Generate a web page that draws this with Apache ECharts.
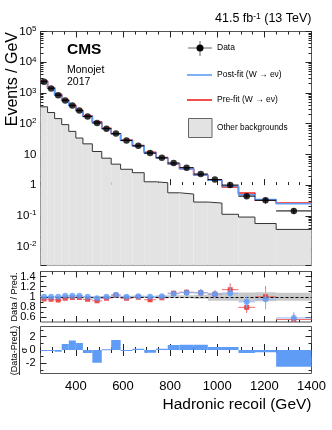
<!DOCTYPE html>
<html>
<head>
<meta charset="utf-8">
<script src="https://cdn.jsdelivr.net/npm/echarts@6.0.0/dist/echarts.min.js"></script>
<style>
html, body { margin: 0; padding: 0; background: #fff; }
#chart { width: 332px; height: 430px; }
</style>
</head>
<body>
<div id="chart"></div>
<script>
// hadronic recoil bin edges (GeV)
const edges = [250, 280, 310, 340, 370, 400, 430, 470, 510, 550, 590, 640, 690, 740, 790, 840, 900, 960, 1020, 1090, 1160, 1250, 1400];

// Events / GeV
const dataVals = [2330, 1405, 847, 567, 389, 267, 170, 105, 68.5, 48, 28.3, 19, 11, 7.7, 5.25, 3.69, 2.29, 1.51, 1.0, 0.436, 0.32, 0.144];
const postFit = [2330, 1405, 847, 556, 381, 262, 170, 108, 68.5, 46.2, 28.3, 18.8, 11.0, 7.62, 4.95, 3.42, 2.12, 1.44, 0.935, 0.484, 0.337, 0.248];
const preFit = [2440, 1479, 906, 585, 395, 271, 179, 114, 70.6, 46.6, 29.2, 19.2, 11.7, 7.86, 4.91, 3.39, 2.12, 1.44, 0.877, 0.552, 0.32, 0.262];
const otherBkg = [353, 230, 146, 93, 56, 34, 22, 12.4, 7.5, 4.8, 3.27, 2.53, 1.28, 1.19, 0.56, 0.51, 0.28, 0.26, 0.112, 0.091, 0.056, 0.036];

// Data / Pred.
const ratioPost = [1.00, 1.00, 1.00, 1.02, 1.02, 1.02, 1.00, 0.97, 1.00, 1.04, 1.00, 1.01, 1.00, 1.01, 1.06, 1.08, 1.08, 1.05, 1.07, 0.90, 0.95, 0.58];
const ratioPre = [0.955, 0.95, 0.935, 0.97, 0.985, 0.985, 0.95, 0.92, 0.97, 1.03, 0.97, 0.99, 0.94, 0.98, 1.07, 1.09, 1.08, 1.05, 1.14, 0.79, 1.00, 0.55];
const ratioErr = [0.005, 0.006, 0.007, 0.008, 0.01, 0.012, 0.013, 0.017, 0.02, 0.024, 0.03, 0.035, 0.04, 0.045, 0.05, 0.06, 0.07, 0.08, 0.12, 0.13, 0.2, 0.12];
const bandHalf = [0.01, 0.01, 0.01, 0.01, 0.012, 0.012, 0.012, 0.014, 0.015, 0.016, 0.018, 0.02, 0.022, 0.025, 0.03, 0.03, 0.04, 0.08, 0.08, 0.085, 0.09, 0.08];

// (Data-Pred.)/sigma
const pulls = [-0.1, -0.05, -0.25, 0.9, 1.4, 1.05, -0.45, -1.9, 0.1, 1.5, -0.15, 0.2, -0.4, 0.2, 0.75, 0.8, 0.8, 0.45, 0.45, -0.45, -0.35, -2.5];

// tick labels
const xLabelVals = [400, 600, 800, 1000, 1200, 1400];
const ratioLabelVals = [0.6, 0.8, 1, 1.2, 1.4];
const ratioMinorVals = [0.7, 0.9, 1.1, 1.3];
const pullLabelVals = [-2, 0, 2];
const pullMinorVals = [-3, -1, 1, 3];

const yMin = 0.0025, yMax = 1e5;
const font = '"Liberation Sans", Arial, sans-serif';
const frame = '#555';
const tickCol = '#222';
const blue = '#5f9cf6';
const red = '#ee2222';

const xMinorVals = [];
for (let v = 250; v <= 1400; v += 50) xMinorVals.push(v);
const logMinorVals = [];
for (let k = -3; k <= 4; k++) {
  for (let m = 2; m <= 9; m++) {
    const l = Math.log10(m) + k;
    if (l > Math.log10(yMin) && l < 5) logMinorVals.push(l);
  }
}

const mid = i => (edges[i] + edges[i + 1]) / 2;
const steps = vals => {
  const pts = [];
  vals.forEach((v, i) => { pts.push([edges[i], v], [edges[i + 1], v]); });
  return pts;
};
const rows = (vals, errs) => vals.map((v, i) => [edges[i], edges[i + 1], v, errs ? errs[i] : 0]);

const renderFill = (params, api) => {
  const cs = params.coordSys;
  const p = api.coord([api.value(0), api.value(2)]);
  const q = api.coord([api.value(1), api.value(2)]);
  return { type: 'rect', shape: { x: p[0], y: p[1], width: q[0] - p[0], height: cs.y + cs.height - p[1] }, style: { fill: '#e3e3e3' } };
};
const renderPull = (params, api) => {
  const p = api.coord([api.value(0), api.value(2)]);
  const q = api.coord([api.value(1), 0]);
  const h = Math.max(Math.abs(q[1] - p[1]), 1);
  return { type: 'rect', shape: { x: p[0], y: Math.min(p[1], q[1]), width: q[0] - p[0], height: h }, style: { fill: blue } };
};
const renderBand = (params, api) => {
  const h = api.value(2);
  const p = api.coord([api.value(0), 1 + h]);
  const q = api.coord([api.value(1), 1 - h]);
  return { type: 'rect', shape: { x: p[0], y: p[1], width: q[0] - p[0], height: q[1] - p[1] }, style: { fill: '#c9c9c9' } };
};
const renderErr = color => (params, api) => {
  const lo = api.value(0), hi = api.value(1), v = api.value(2), e = api.value(3);
  const c = (lo + hi) / 2;
  const l = api.coord([lo, v]), r = api.coord([hi, v]);
  const t = api.coord([c, v + e]), b = api.coord([c, Math.max(v - e, 1e-6)]);
  return {
    type: 'group',
    children: [
      { type: 'line', shape: { x1: l[0], y1: l[1], x2: r[0], y2: r[1] }, style: { stroke: color, lineWidth: 1 } },
      { type: 'line', shape: { x1: t[0], y1: t[1], x2: b[0], y2: b[1] }, style: { stroke: color, lineWidth: 1 } }
    ]
  };
};

const fmtPow = v => {
  const l = Math.log10(v);
  const e = Math.round(l);
  if (Math.abs(l - e) > 1e-6) return '';
  if (e === 0) return '{b|1}';
  if (e === 1) return '{b|10}';
  return '{b|10}{s|' + e + '}';
};
const fmtNum = v => String(Math.round(v * 100) / 100);

function xAxes(g, labels) {
  const mk = (pos, vals, len, lab) => ({
    type: 'value', gridIndex: g, position: pos, min: 250, max: 1400,
    axisLine: { show: false }, splitLine: { show: false },
    axisTick: { inside: true, length: len, customValues: vals, lineStyle: { color: tickCol } },
    axisLabel: lab ? { customValues: xLabelVals, formatter: fmtNum, margin: 6, fontSize: 13, fontFamily: font, color: '#000' } : { show: false }
  });
  return [mk('bottom', xLabelVals, 6, labels), mk('bottom', xMinorVals, 3, false), mk('top', xLabelVals, 6, false), mk('top', xMinorVals, 3, false)];
}

// ticks only; the tight panels get their labels placed through convertToPixel below
function valueYAxes(g, min, max, majors, minors) {
  const mk = (pos, vals, len) => ({
    type: 'value', gridIndex: g, position: pos, min, max,
    axisLine: { show: false }, splitLine: { show: false },
    axisTick: { inside: true, length: len, customValues: vals, lineStyle: { color: tickCol } },
    axisLabel: { show: false }
  });
  return [mk('left', majors, 6), mk('right', majors, 6), mk('left', minors, 3), mk('right', minors, 3)];
}

const logAxis = (pos, lab) => ({
  type: 'log', gridIndex: 0, position: pos, min: yMin, max: yMax,
  axisLine: { show: false }, splitLine: { show: false },
  axisTick: { inside: true, length: 6, lineStyle: { color: tickCol } },
  axisLabel: lab ? {
    margin: 4, formatter: fmtPow,
    rich: {
      b: { fontSize: 11.5, fontFamily: font, color: '#000', lineHeight: 13 },
      s: { fontSize: 8, fontFamily: font, color: '#000', lineHeight: 8, verticalAlign: 'top' }
    }
  } : { show: false }
});
const logMinorAxis = pos => ({
  type: 'value', gridIndex: 0, position: pos, min: Math.log10(yMin), max: 5,
  axisLine: { show: false }, splitLine: { show: false },
  axisTick: { inside: true, length: 3, customValues: logMinorVals, lineStyle: { color: tickCol } },
  axisLabel: { show: false }
});

const yRatio = 4, yPull = 8;
const gridBase = { left: 40.5, right: 20.5, show: true, borderColor: frame, borderWidth: 1, backgroundColor: 'transparent' };

const txt = (x, y, text, size, extra) => Object.assign({
  type: 'text', x, y, silent: true,
  style: Object.assign({ text, fontSize: size, fontFamily: font, fill: '#000', align: 'left', verticalAlign: 'middle' }, (extra && extra.style) || {})
}, extra && extra.rotation ? { rotation: extra.rotation } : {});

const graphics = [
  txt(311.5, 19, '41.5 fb{s|-1} (13 TeV)', 12.5, { style: { align: 'right', rich: { s: { fontSize: 8.5, fontFamily: font, lineHeight: 8, verticalAlign: 'top' } } } }),
  txt(67, 50, 'CMS', 15.5, { style: { fontWeight: 'bold' } }),
  txt(67, 70, 'Monojet', 10.5),
  txt(67, 82.5, '2017', 10.5),

  { type: 'line', silent: true, shape: { x1: 188, y1: 48, x2: 212, y2: 48 }, style: { stroke: '#666', lineWidth: 1 } },
  { type: 'line', silent: true, shape: { x1: 200, y1: 41, x2: 200, y2: 56 }, style: { stroke: '#666', lineWidth: 1 } },
  { type: 'circle', silent: true, shape: { cx: 200, cy: 48, r: 3.5 }, style: { fill: '#000' } },
  txt(217, 48, 'Data', 8.5),
  { type: 'line', silent: true, shape: { x1: 187, y1: 75, x2: 212, y2: 75 }, style: { stroke: blue, lineWidth: 1.6 } },
  txt(217, 75, 'Post-fit (W \u2192 e\u03bd)', 8.5),
  { type: 'line', silent: true, shape: { x1: 187, y1: 100, x2: 212, y2: 100 }, style: { stroke: red, lineWidth: 1.6 } },
  txt(217, 100, 'Pre-fit (W \u2192 e\u03bd)', 8.5),
  { type: 'rect', silent: true, shape: { x: 188.5, y: 118.5, width: 23.5, height: 19 }, style: { fill: '#e3e3e3', stroke: '#666', lineWidth: 1 } },
  txt(217, 128, 'Other backgrounds', 8.3),

  txt(13, 32, 'Events / GeV', 16, { rotation: Math.PI / 2, style: { align: 'right' } }),
  txt(14, 297, 'Data / Pred.', 9.2, { rotation: Math.PI / 2, style: { align: 'center' } }),
  txt(14.5, 350.5, '(Data-Pred.)', 9, { rotation: Math.PI / 2, style: { align: 'center' } }),
  { type: 'line', silent: true, shape: { x1: 19.5, y1: 326, x2: 19.5, y2: 375 }, style: { stroke: '#000', lineWidth: 0.8 } },
  txt(24.5, 350.5, '\u03c3', 9, { rotation: Math.PI / 2, style: { align: 'center' } }),
  txt(311.5, 405, 'Hadronic recoil (GeV)', 15.5, { style: { align: 'right' } })
];

const chart = echarts.init(document.getElementById('chart'), null, { renderer: 'canvas' });
chart.setOption({
  animation: false,
  grid: [
    Object.assign({ top: 31.5, height: 233.5 }, gridBase),
    Object.assign({ top: 271.5, height: 50.5 }, gridBase),
    Object.assign({ top: 326.5, height: 47 }, gridBase)
  ],
  xAxis: [...xAxes(0, false), ...xAxes(1, false), ...xAxes(2, true)],
  yAxis: [
    logAxis('left', true), logAxis('right', false), logMinorAxis('left'), logMinorAxis('right'),
    ...valueYAxes(1, 0.5, 1.5, ratioLabelVals, ratioMinorVals),
    ...valueYAxes(2, -3.5, 3.5, pullLabelVals, pullMinorVals)
  ],
  series: [
    { type: 'custom', name: 'Other backgrounds', xAxisIndex: 0, yAxisIndex: 0, clip: true, z: 1, renderItem: renderFill, data: rows(otherBkg) },
    { type: 'line', xAxisIndex: 0, yAxisIndex: 0, symbol: 'none', z: 2, lineStyle: { color: '#333', width: 1 }, data: steps(otherBkg) },
    { type: 'line', name: 'Pre-fit', xAxisIndex: 0, yAxisIndex: 0, symbol: 'none', z: 3, lineStyle: { color: red, width: 1.6 }, data: steps(preFit) },
    { type: 'line', name: 'Post-fit', xAxisIndex: 0, yAxisIndex: 0, symbol: 'none', z: 4, lineStyle: { color: blue, width: 1.6 }, data: steps(postFit) },
    { type: 'custom', xAxisIndex: 0, yAxisIndex: 0, clip: true, z: 5, renderItem: renderErr('#000'),
      data: rows(dataVals, dataVals.map((v, i) => v * ratioErr[i] / ratioPost[i])) },
    { type: 'scatter', name: 'Data', xAxisIndex: 0, yAxisIndex: 0, z: 6, symbolSize: 6.5, itemStyle: { color: '#000' },
      data: dataVals.map((v, i) => [mid(i), v]) },

    { type: 'custom', xAxisIndex: 4, yAxisIndex: yRatio, clip: true, z: 1, renderItem: renderBand, data: rows(bandHalf),
      markLine: { silent: true, symbol: 'none', label: { show: false }, lineStyle: { color: '#000', type: [3, 2], width: 1.2 }, data: [{ yAxis: 1 }] } },
    { type: 'custom', xAxisIndex: 4, yAxisIndex: yRatio, clip: true, z: 3, renderItem: renderErr('#f06a6a'),
      data: rows(ratioPre, ratioPre.map((r, i) => r * ratioErr[i] / ratioPost[i])) },
    { type: 'scatter', xAxisIndex: 4, yAxisIndex: yRatio, z: 4, symbol: 'rect', symbolSize: 5, itemStyle: { color: red },
      data: ratioPre.map((r, i) => [mid(i), r]) },
    { type: 'custom', xAxisIndex: 4, yAxisIndex: yRatio, clip: true, z: 5, renderItem: renderErr('#8fb7f5'),
      data: rows(ratioPost, ratioErr) },
    { type: 'scatter', xAxisIndex: 4, yAxisIndex: yRatio, z: 6, symbolSize: 6, itemStyle: { color: blue },
      data: ratioPost.map((r, i) => [mid(i), r]) },

    { type: 'custom', xAxisIndex: 8, yAxisIndex: yPull, clip: true, z: 2, renderItem: renderPull, data: rows(pulls) }
  ],
  graphic: graphics
});

// tick labels of the two small panels, positioned by their own y axes
const tickLabels = [];
ratioLabelVals.forEach(v => {
  tickLabels.push(txt(35.5, chart.convertToPixel({ yAxisIndex: yRatio }, v), fmtNum(v), 11, { style: { align: 'right' } }));
});
pullLabelVals.forEach(v => {
  tickLabels.push(txt(35.5, chart.convertToPixel({ yAxisIndex: yPull }, v), fmtNum(v), 11, { style: { align: 'right' } }));
});
chart.setOption({ graphic: graphics.concat(tickLabels) });
</script>
</body>
</html>
